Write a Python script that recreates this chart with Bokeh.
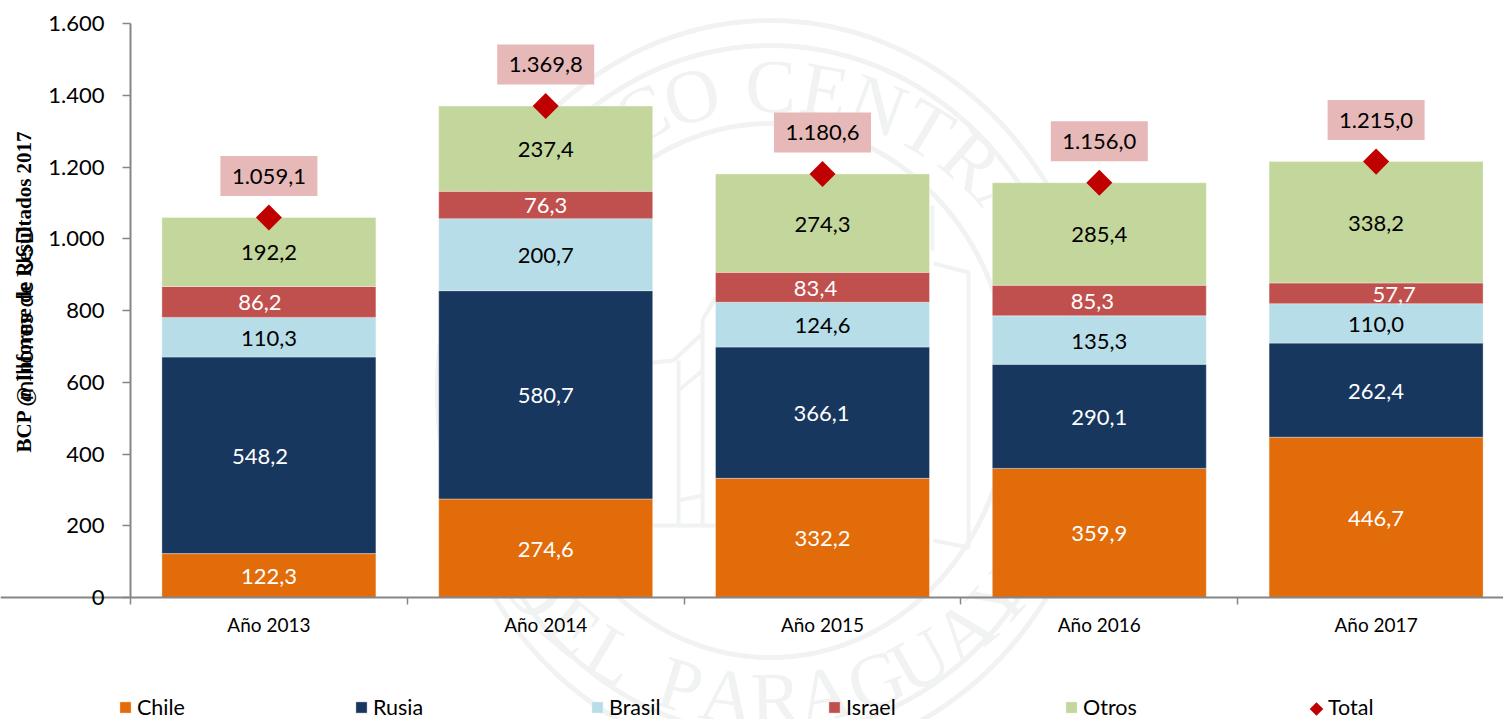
import math
from bokeh.plotting import figure
from bokeh.embed import file_html
from bokeh.resources import INLINE
from bokeh.core.properties import value
from bokeh.models import (ColumnDataSource, Range1d, LinearAxis, FixedTicker, Legend, LegendItem, Label)

years = ["Año 2013", "Año 2014", "Año 2015", "Año 2016", "Año 2017"]
chile = [122.3, 274.6, 332.2, 359.9, 446.7]
rusia = [548.2, 580.7, 366.1, 290.1, 262.4]
brasil = [110.3, 200.7, 124.6, 135.3, 110.0]
israel = [86.2, 76.3, 83.4, 85.3, 57.7]
otros = [192.2, 237.4, 274.3, 285.4, 338.2]
total = [1059.1, 1369.8, 1180.6, 1156.0, 1215.0]
series_names = ["Chile", "Rusia", "Brasil", "Israel", "Otros"]
series_values = [chile, rusia, brasil, israel, otros]
y_ticks = [0, 200, 400, 600, 800, 1000, 1200, 1400, 1600]
y_tick_labels = ["0", "200", "400", "600", "800", "1.000", "1.200", "1.400", "1.600"]

fills = ["#E36C0A", "#17375E", "#B7DDE8", "#C0504D", "#C3D69B"]
label_colors = ["white", "white", "black", "white", "black"]
label_dx = [[0, 0, 0, 0, 0], [-9, 0, -1, 0, 0], [0, 0, 0, 0, 0], [-9, 0, -7, -7, 18], [0, 0, 0, 0, 0]]
FONT = "Lato"

W, H = 1503, 719
OX, OY = 130.0, 597.0      # page position of the axes origin
BAND = 276.8
YS = 574.0 / 1600.0        # px per unit
def dx(px): return (px - OX) / BAND
def dy(py): return (OY - py) / YS

p = figure(width=W, height=H, output_backend="svg", toolbar_location=None, min_border=0,
           x_range=Range1d(dx(0), dx(W)), y_range=Range1d(dy(H), dy(0)),
           x_axis_type=None, y_axis_type=None)
p.outline_line_color = None
p.grid.visible = False
p.background_fill_color = "white"

# watermark seal (slightly taller than wide)
WM = "#F0F3F1"
CX, CY = 770.0, 390.0
for r, w in [(370, 5), (345, 5), (267, 5)]:
    a = [2 * math.pi * i / 360 for i in range(361)]
    p.line([dx(CX + 0.9 * r * math.cos(t)) for t in a], [dy(CY + r * math.sin(t)) for t in a], line_color=WM, line_width=w)
seal_top = "BANCO CENTRAL"
seal_bot = "DEL PARAGUAY"
tx, ty, ta, tt = [], [], [], []
for i, ch in enumerate(seal_top):
    deg = -15 - 4 * 10 + i * 10 if i < 5 else (i - 6) * 10.3
    t = math.radians(deg)
    tx.append(dx(CX + 305 * math.sin(t))); ty.append(dy(CY - 305 * math.cos(t))); ta.append(-t); tt.append(ch)
bot_angles = [-50, -40, -30.8, None, -17, -8, 1, 10, 20, 29, 38.8, 48]
for ch, deg in zip(seal_bot, bot_angles):
    if deg is None:
        continue
    t = math.radians(deg)
    tx.append(dx(CX + 308 * math.sin(t))); ty.append(dy(CY + 308 * math.cos(t))); ta.append(t); tt.append(ch)
p.text(x=tx, y=ty, text=tt, angle=ta, text_font=value("Liberation Serif"), text_font_size="76px",
       text_color=WM, text_align="center", text_baseline="middle")
# building outline of the seal (page pixels)
seal_paths = [
    [(652, 362), (673, 360), (702, 333), (702, 320), (715, 297)],
    [(678, 360), (678, 525)], [(702, 333), (702, 525)],
    [(678, 390), (702, 370)], [(678, 500), (702, 495)],
    [(640, 525), (730, 525)],
    [(932, 205), (932, 250)], [(933, 263), (968, 272), (968, 547), (933, 540)],
]
p.multi_line([[dx(a) for a, _ in s] for s in seal_paths], [[dy(b) for _, b in s] for s in seal_paths],
             line_color=WM, line_width=4)

# bars
src = ColumnDataSource(dict(x=[i + 0.5 for i in range(5)], **{n: v for n, v in zip(series_names, series_values)}))
rs = p.vbar_stack(series_names, x="x", width=214 / BAND, source=src, color=fills,
                  line_color="white", line_alpha=0.35, line_width=1)

# axes
xax = LinearAxis(fixed_location=0, ticker=FixedTicker(ticks=[i + 0.5 for i in range(5)], minor_ticks=[0, 1, 2, 3, 4]),
                 major_label_overrides={i + 0.5: y for i, y in enumerate(years)})
xax.axis_line_color = "#868686"; xax.axis_line_width = 2
xax.major_tick_line_color = None; xax.minor_tick_line_color = "#868686"; xax.minor_tick_line_width = 1.5
xax.minor_tick_in = 0; xax.minor_tick_out = 7
xax.major_tick_in = 0; xax.major_tick_out = 0
xax.major_label_standoff = 16
xax.major_label_text_font = FONT; xax.major_label_text_font_size = "19px"; xax.major_label_text_color = "black"
xax.major_label_standoff = 8
p.add_layout(xax, "below")

yax = LinearAxis(fixed_location=0, ticker=FixedTicker(ticks=y_ticks), bounds=(0, 1600),
                 major_label_overrides=dict(zip(y_ticks, y_tick_labels)))
yax.axis_line_color = "#868686"; yax.axis_line_width = 2
yax.major_tick_line_color = "#868686"; yax.major_tick_line_width = 1.5
yax.major_tick_in = 0; yax.major_tick_out = 8
yax.minor_tick_line_color = None
yax.major_label_standoff = 18
yax.major_label_text_font = FONT; yax.major_label_text_font_size = "22px"; yax.major_label_text_color = "black"
p.add_layout(yax, "left")

# value labels
base = [0.0] * 5
for k, (vals, col, off) in enumerate(zip(series_values, label_colors, label_dx)):
    mids = [b + v / 2 for b, v in zip(base, vals)]
    p.text(x=[i + 0.5 for i in range(5)], y=mids, text=[f"{v:.1f}".replace(".", ",") for v in vals],
           x_offset=off, y_offset=1, text_font=value(FONT), text_font_size="22px", text_color=col,
           text_align="center", text_baseline="middle")
    base = [b + v for b, v in zip(base, vals)]

# totals
xs = [i + 0.5 for i in range(5)]
ybox = [t + 41.5 / YS for t in total]
p.rect(x=xs, y=ybox, width=97 / BAND, height=40 / YS, fill_color="#E6B9B8", line_color=None)
def fmt_total(t):
    s = f"{t:.1f}".replace(".", ",")
    return s[0] + "." + s[1:]
p.text(x=xs, y=ybox, text=[fmt_total(t) for t in total], text_font=value(FONT), text_font_size="22px",
       text_color="black", text_align="center", text_baseline="middle")
rt = p.scatter(x=xs, y=total, marker="square", angle=math.pi / 4, size=18.4, fill_color="#C00000", line_color=None)

# legends
def add_leg(name, r, left, gw, gh, standoff, ypos):
    leg = Legend(items=[LegendItem(label=name, renderers=[r])], location=(left, ypos),
                 orientation="horizontal", glyph_width=gw, glyph_height=gh, label_standoff=standoff,
                 padding=0, margin=0, spacing=0, border_line_color=None, background_fill_alpha=0,
                 label_text_font=FONT, label_text_font_size="21.5px", label_text_color="black",
                 label_height=14)
    p.add_layout(leg, "center")
for n, r, left in zip(series_names, rs, [118, 354, 590, 827, 1064]):
    add_leg(n, r, left, 14, 14, 5, -1)
# Total: legend entry whose key glyph is transparent; the rotated key sits on top of it
rkey = p.scatter(x=[], y=[], marker="square", size=10, fill_alpha=0, line_alpha=0)
add_leg("Total", rkey, 1309, 14, 14, 5, -1)
p.scatter(x=[dx(1316)], y=[dy(708.5)], marker="square", angle=math.pi / 4, size=9.6, fill_color="#C00000", line_color=None)

# axis titles
Label_args = dict(angle=math.pi / 2, text_baseline="middle", text_align="left", text_color="black")
p.add_layout(Label(x=dx(23), y=dy(452), text="BCP @ Informe de Resultados 2017", text_font="Liberation Serif",
                   text_font_style="bold", text_font_size="21px", **Label_args))
p.add_layout(Label(x=dx(23), y=dy(400), text="millones de USD", text_font=FONT, text_font_size="24px", **Label_args))

open("out.html", "w").write(file_html(p, INLINE))
